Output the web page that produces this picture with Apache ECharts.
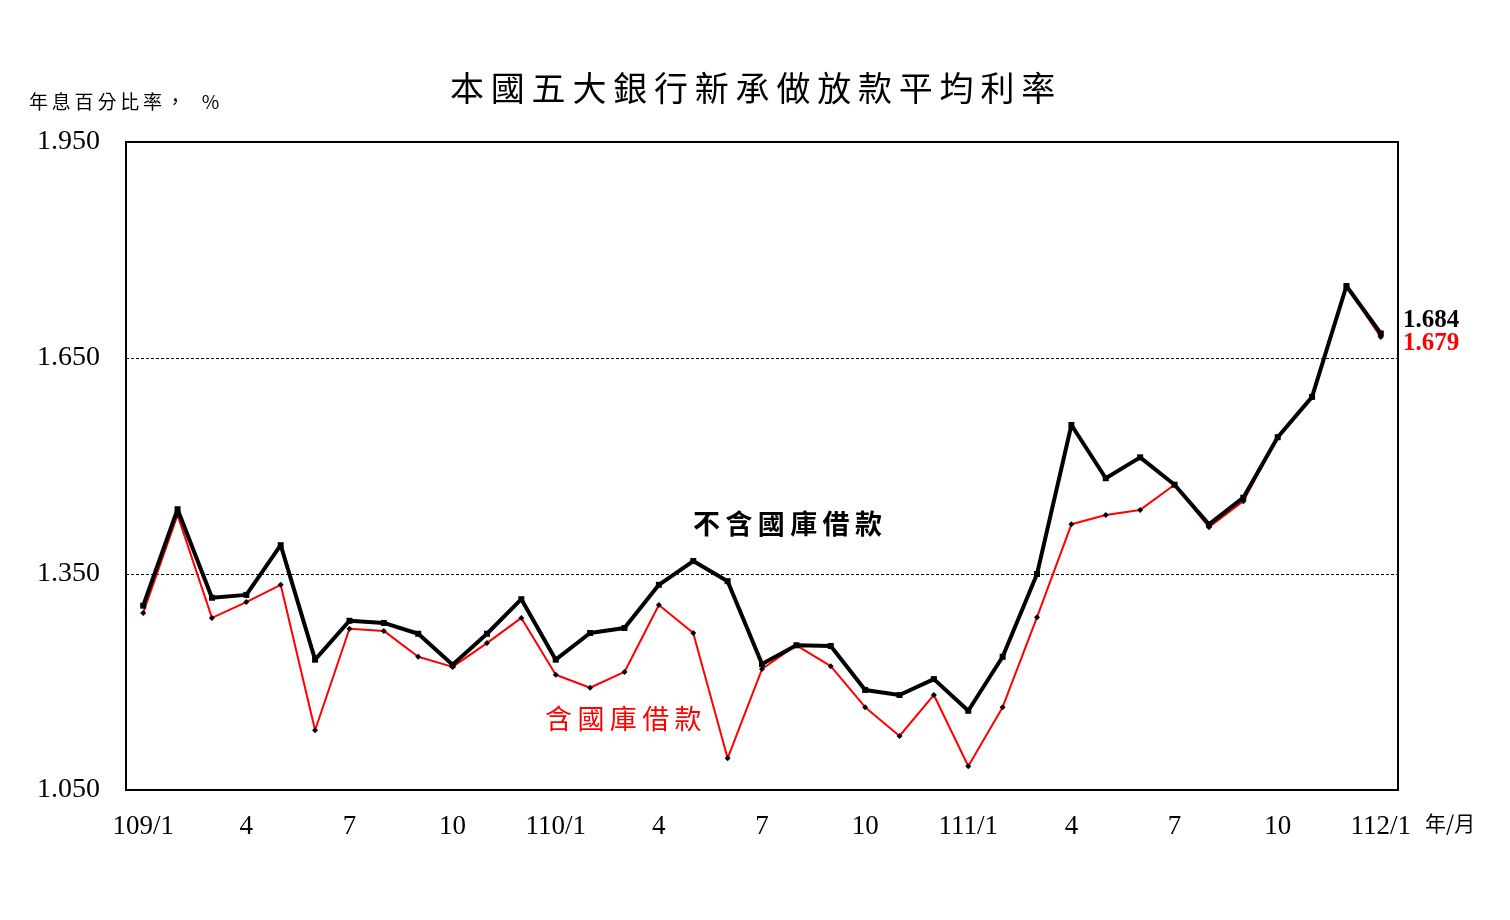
<!DOCTYPE html>
<html>
<head>
<meta charset="utf-8">
<script src="https://cdn.jsdelivr.net/npm/echarts@6/dist/echarts.min.js"></script>
<style>html,body{margin:0;padding:0;background:#fff}#c{width:1510px;height:920px}</style>
</head>
<body>
<div id="c"></div>
<script>
const categories = ['109/1','2','3','4','5','6','7','8','9','10','11','12',
  '110/1','2','3','4','5','6','7','8','9','10','11','12',
  '111/1','2','3','4','5','6','7','8','9','10','11','12',
  '112/1'];
const exclTreasury = [1.306,1.440,1.317,1.321,1.390,1.231,1.285,1.282,1.267,1.224,1.267,1.315,
  1.231,1.268,1.275,1.335,1.368,1.340,1.225,1.251,1.250,1.189,1.182,1.204,
  1.160,1.235,1.350,1.557,1.483,1.512,1.474,1.419,1.456,1.540,1.596,1.750,
  1.684];
const inclTreasury = [1.296,1.432,1.289,1.311,1.335,1.133,1.274,1.271,1.235,1.221,1.254,1.289,
  1.210,1.192,1.214,1.307,1.268,1.094,1.218,1.251,1.222,1.165,1.125,1.182,
  1.083,1.165,1.290,1.419,1.432,1.439,1.474,1.415,1.451,1.540,1.596,1.750,
  1.679];
const yTicks = [1.050, 1.350, 1.650, 1.950];
const xLabelShown = ['109/1','4','7','10','110/1','4','7','10','111/1','4','7','10','112/1'];

const serif = '"Liberation Serif","Times New Roman",serif';
const cjk = '"Noto Sans CJK TC","Noto Sans CJK SC",sans-serif';
const spaced = s => s.split('').join('\u2009');

const chart = echarts.init(document.getElementById('c'), null, {renderer: 'canvas'});
chart.setOption({
  animation: false,
  backgroundColor: '#fff',
  title: {
    text: spaced('本國五大銀行新承做放款平均利率'),
    left: 445, top: 66,
    textStyle: {fontFamily: cjk, fontSize: 34, fontWeight: 'normal', color: '#000'}
  },
  grid: {left: 126, right: 112, top: 142, bottom: 130, show: true, borderColor: '#000', borderWidth: 2},
  xAxis: {
    type: 'category',
    data: categories,
    boundaryGap: true,
    axisLine: {lineStyle: {color: '#000', width: 2}},
    axisTick: {inside: true, length: 8, interval: 0, lineStyle: {color: '#000', width: 1}},
    axisLabel: {
      interval: 2,
      margin: 23,
      color: '#000',
      fontFamily: serif,
      fontSize: 27,
      formatter: (v, i) => (i % 3 === 0 ? xLabelShown[i / 3] : '')
    }
  },
  yAxis: {
    type: 'value',
    min: yTicks[0], max: yTicks[yTicks.length - 1], interval: 0.3,
    axisLine: {show: true, lineStyle: {color: '#000', width: 2}},
    axisTick: {show: false},
    splitLine: {show: true, lineStyle: {color: '#000', width: 1, type: [3, 2]}},
    axisLabel: {
      margin: 26, color: '#000', fontFamily: serif, fontSize: 28,
      formatter: v => v.toFixed(3)
    }
  },
  series: [
    {
      name: '含國庫借款',
      type: 'line',
      data: inclTreasury,
      symbol: 'diamond', symbolSize: 6,
      lineStyle: {color: '#ff0000', width: 2},
      itemStyle: {color: '#000'},
      z: 2
    },
    {
      name: '不含國庫借款',
      type: 'line',
      data: exclTreasury,
      symbol: 'rect', symbolSize: 6,
      lineStyle: {color: '#000', width: 4},
      itemStyle: {color: '#000'},
      z: 3
    }
  ],
  graphic: [
    {type: 'text', left: 29, top: 92, style: {text: spaced('年息百分比率，') + '    %', fontFamily: cjk, fontSize: 19, fill: '#000'}},
    {type: 'text', left: 1425, top: 813, style: {text: '年/月', fontFamily: cjk, fontSize: 21, fill: '#000'}},
    {type: 'text', left: 693, top: 510, style: {text: spaced('不含國庫借款'), fontFamily: cjk, fontSize: 27, fontWeight: 'bold', fill: '#000'}},
    {type: 'text', left: 545, top: 705, style: {text: spaced('含國庫借款'), fontFamily: cjk, fontSize: 27, fill: '#ff0000'}},
    {type: 'text', left: 1403, top: 308, style: {text: '1.684', fontFamily: serif, fontSize: 25, fontWeight: 'bold', fill: '#000'}},
    {type: 'text', left: 1403, top: 331, style: {text: '1.679', fontFamily: serif, fontSize: 25, fontWeight: 'bold', fill: '#ff0000'}}
  ]
});
</script>
</body>
</html>
